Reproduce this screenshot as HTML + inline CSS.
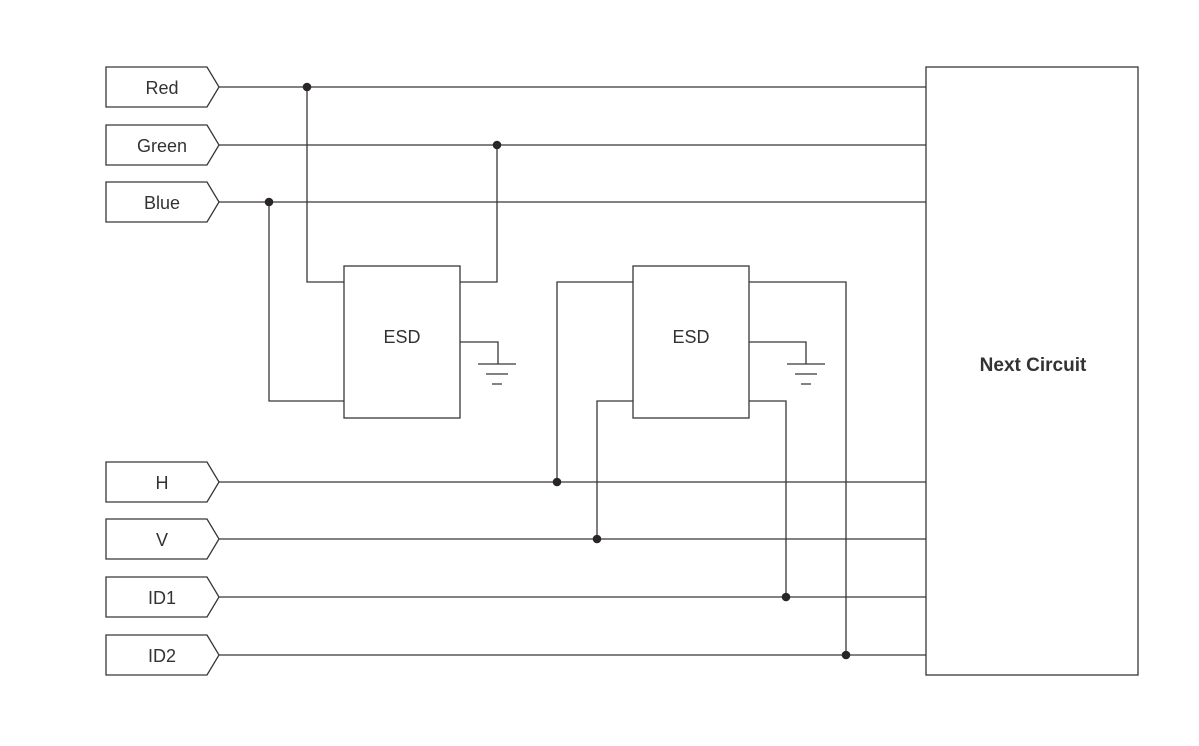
<!DOCTYPE html>
<html><head><meta charset="utf-8"><style>html,body{margin:0;padding:0;background:#fff}</style></head>
<body>
<svg width="1199" height="741" viewBox="0 0 1199 741" xmlns="http://www.w3.org/2000/svg" font-family="Liberation Sans, sans-serif">
<g fill="none" stroke="#3a3636" stroke-width="1.3">
<!-- connectors -->
<path d="M106,67 H207 L219,87 L207,107 H106 Z"/>
<path d="M106,125 H207 L219,145 L207,165 H106 Z"/>
<path d="M106,182 H207 L219,202 L207,222 H106 Z"/>
<path d="M106,462 H207 L219,482 L207,502 H106 Z"/>
<path d="M106,519 H207 L219,539 L207,559 H106 Z"/>
<path d="M106,577 H207 L219,597 L207,617 H106 Z"/>
<path d="M106,635 H207 L219,655 L207,675 H106 Z"/>
<!-- signal lines -->
<path d="M219,87H926M219,145H926M219,202H926M219,482H926M219,539H926M219,597H926M219,655H926"/>
<rect x="926" y="67" width="212" height="608"/>
<!-- ESD1 -->
<rect x="344" y="266" width="116" height="152"/>
<path d="M307,87V282H344M497,145V282H460M269,202V401H344"/>
<path d="M460,342H498V364M478,364H516M486,374H508M492,384H502"/>
<!-- ESD2 -->
<rect x="633" y="266" width="116" height="152"/>
<path d="M557,482V282H633M597,539V401H633M786,597V401H749M846,655V282H749"/>
<path d="M749,342H806V364M787,364H825M795,374H817M801,384H811"/>
</g>
<g fill="#2a2626">
<circle cx="307" cy="87" r="4.3"/><circle cx="497" cy="145" r="4.3"/><circle cx="269" cy="202" r="4.3"/>
<circle cx="557" cy="482" r="4.3"/><circle cx="597" cy="539" r="4.3"/><circle cx="786" cy="597" r="4.3"/><circle cx="846" cy="655" r="4.3"/>
</g>
<g fill="#333" font-size="18" text-anchor="middle">
<text x="162" y="94">Red</text>
<text x="162" y="152">Green</text>
<text x="162" y="209">Blue</text>
<text x="162" y="489">H</text>
<text x="162" y="546">V</text>
<text x="162" y="604">ID1</text>
<text x="162" y="662">ID2</text>
<text x="402" y="343">ESD</text>
<text x="691" y="343">ESD</text>
<text x="1033" y="371" font-weight="bold" font-size="19">Next Circuit</text>
</g>
</svg>
</body></html>
